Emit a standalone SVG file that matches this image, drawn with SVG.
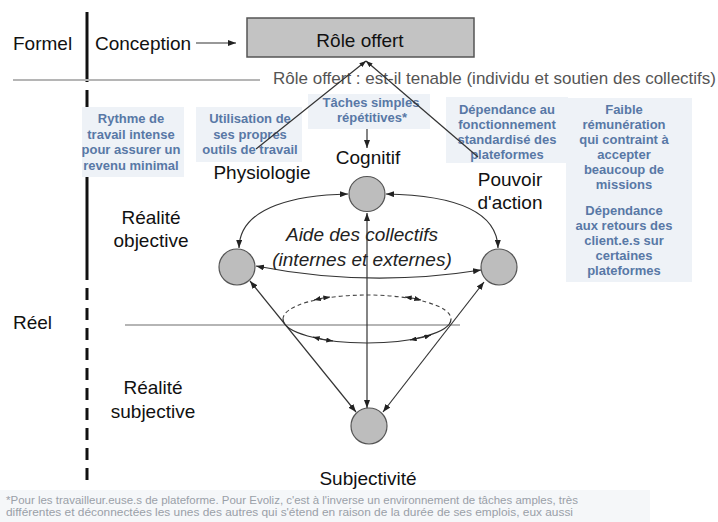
<svg xmlns="http://www.w3.org/2000/svg" width="718" height="522" viewBox="0 0 718 522">
<defs>
<style>
.lbl{font-family:"Liberation Sans",Arial,sans-serif;font-size:19px;fill:#111}
.sub{font-family:"Liberation Sans",Arial,sans-serif;font-size:17px;fill:#555}
.box{fill:#eef2f7}
.bt{font-family:"Liberation Sans",Arial,sans-serif;font-size:13px;font-weight:bold;fill:#5878a6;text-anchor:middle}
.it{font-family:"Liberation Sans",Arial,sans-serif;font-size:19px;font-style:italic;fill:#222;text-anchor:middle}
.node{fill:#bdbdbd;stroke:#555;stroke-width:1.2}
.c{fill:none;stroke:#333;stroke-width:1.2}
.dash{fill:none;stroke:#444;stroke-width:1.1;stroke-dasharray:4,3}
.fn{font-family:"Liberation Sans",Arial,sans-serif;font-size:10px;fill:#9aa0a8}
</style>
<marker id="ah" viewBox="0 0 8 6" refX="8" refY="3" markerWidth="8" markerHeight="6" markerUnits="userSpaceOnUse" orient="auto-start-reverse">
<path d="M0,0 L8,3 L0,6 z" fill="#222"/>
</marker>
<marker id="as" viewBox="0 0 8 6" refX="8" refY="3" markerWidth="7" markerHeight="5" markerUnits="userSpaceOnUse" orient="auto-start-reverse">
<path d="M0,0 L8,3 L0,6 z" fill="#222"/>
</marker>
</defs>
<rect width="718" height="522" fill="#fff"/>

<g id="axes">
<line x1="87" y1="12" x2="87" y2="82" stroke="#111" stroke-width="3"/>
<line x1="87" y1="90" x2="87" y2="280" stroke="#111" stroke-width="3"/>
<line x1="87" y1="288" x2="87" y2="482" stroke="#111" stroke-width="3" stroke-dasharray="12,8"/>
<line x1="13" y1="80" x2="260" y2="80" stroke="#b5b5b5" stroke-width="2"/>
<line x1="125" y1="325" x2="460" y2="325" stroke="#b5b5b5" stroke-width="2"/>
</g>

<g id="side-labels">
<text class="lbl" x="13" y="50">Formel</text>
<text class="lbl" x="13" y="329">Réel</text>
<text class="lbl" x="151" y="224" text-anchor="middle">Réalité</text>
<text class="lbl" x="151" y="247" text-anchor="middle">objective</text>
<text class="lbl" x="153" y="394" text-anchor="middle">Réalité</text>
<text class="lbl" x="153" y="418" text-anchor="middle">subjective</text>
</g>

<g id="node-conception">
<text class="lbl" x="95" y="50">Conception</text>
</g>

<g id="node-role-offert">
<rect x="247" y="18" width="227" height="39" fill="#c3c3c3" stroke="#555" stroke-width="1.5"/>
<text class="lbl" x="360" y="47" text-anchor="middle">Rôle offert</text>
</g>

<g id="node-tenable">
<text class="sub" x="273" y="84" textLength="443" lengthAdjust="spacingAndGlyphs">Rôle offert : est-il tenable (individu et soutien des collectifs)</text>
</g>

<g id="box-rythme">
<rect class="box" x="82" y="107" width="102" height="70"/>
<text class="bt" x="131" y="123">Rythme de</text>
<text class="bt" x="131" y="138.5">travail intense</text>
<text class="bt" x="131" y="154">pour assurer un</text>
<text class="bt" x="131" y="169.5">revenu minimal</text>
</g>

<g id="box-outils">
<rect class="box" x="196" y="107" width="106" height="55"/>
<text class="bt" x="250" y="123">Utilisation de</text>
<text class="bt" x="250" y="138.5">ses propres</text>
<text class="bt" x="250" y="154">outils de travail</text>
</g>

<g id="box-taches">
<rect class="box" x="308" y="94" width="122" height="35"/>
<text class="bt" x="371" y="107">Tâches simples</text>
<text class="bt" x="372" y="122">répétitives*</text>
</g>

<g id="box-dependance">
<rect class="box" x="446" y="97" width="122" height="66"/>
<text class="bt" x="507" y="114">Dépendance au</text>
<text class="bt" x="507" y="129">fonctionnement</text>
<text class="bt" x="507" y="144">standardisé des</text>
<text class="bt" x="507" y="159">plateformes</text>
</g>

<g id="box-remuneration">
<rect class="box" x="566" y="98" width="126" height="184"/>
<text class="bt" x="624" y="114">Faible</text>
<text class="bt" x="624" y="129">rémunération</text>
<text class="bt" x="624" y="144">qui contraint à</text>
<text class="bt" x="624" y="159">accepter</text>
<text class="bt" x="624" y="174">beaucoup de</text>
<text class="bt" x="624" y="189">missions</text>
<text class="bt" x="624" y="215">Dépendance</text>
<text class="bt" x="624" y="230">aux retours des</text>
<text class="bt" x="624" y="245">client.e.s sur</text>
<text class="bt" x="624" y="260">certaines</text>
<text class="bt" x="624" y="275">plateformes</text>
</g>

<g id="node-cognitif">
<ellipse class="node" cx="367" cy="194" rx="18" ry="17.5"/>
<text class="lbl" x="368" y="164" text-anchor="middle">Cognitif</text>
</g>

<g id="node-physiologie">
<ellipse class="node" cx="237" cy="267" rx="18" ry="18"/>
<text class="lbl" x="262" y="179" text-anchor="middle">Physiologie</text>
</g>

<g id="node-pouvoir">
<ellipse class="node" cx="499" cy="267" rx="18" ry="18"/>
<text class="lbl" x="510" y="186" text-anchor="middle">Pouvoir</text>
<text class="lbl" x="510" y="209" text-anchor="middle">d'action</text>
</g>

<g id="node-subjectivite">
<ellipse class="node" cx="369" cy="426" rx="18" ry="18"/>
<text class="lbl" x="368" y="485" text-anchor="middle">Subjectivité</text>
</g>

<g id="node-aide">
<text class="it" x="362" y="241">Aide des collectifs</text>
<text class="it" x="362" y="266">(internes et externes)</text>
</g>

<g id="connectors">
<path class="c" d="M196,43 L236,43" marker-end="url(#ah)"/>
<path class="c" d="M256,149 L366,61" marker-end="url(#as)"/>
<path class="c" d="M478,157 L366,61" marker-end="url(#as)"/>
<path class="c" d="M367,129 L367,148" marker-end="url(#ah)"/>
<path class="c" d="M239,248 C240,205 300,195 348,194" marker-start="url(#ah)" marker-end="url(#ah)"/>
<path class="c" d="M386,194 C440,195 497,205 498,248" marker-start="url(#ah)" marker-end="url(#ah)"/>
<path class="c" d="M256,266 Q368,288 481,270" marker-start="url(#ah)" marker-end="url(#ah)"/>
<path class="c" d="M367,408 L367,213" marker-start="url(#ah)" marker-end="url(#ah)"/>
<path class="c" d="M250,281 L356,412" marker-start="url(#ah)" marker-end="url(#ah)"/>
<path class="c" d="M484,282 L383,412" marker-start="url(#ah)" marker-end="url(#ah)"/>
<path class="dash" d="M283,319 A84,24 0 0 1 451,319"/>
<path class="c" d="M283,319 A84,24 0 0 0 451,319"/>
<path class="c" d="M314,300 A84,24 0 0 1 330,297" marker-start="url(#as)" marker-end="url(#as)"/>
<path class="c" d="M405,297 A84,24 0 0 1 421,300" marker-start="url(#as)" marker-end="url(#as)"/>
<path class="c" d="M313,337 A84,24 0 0 0 333,341" marker-start="url(#as)" marker-end="url(#as)"/>
<path class="c" d="M410,340 A84,24 0 0 0 431,335" marker-start="url(#as)" marker-end="url(#as)"/>
</g>

<g id="footnote">
<rect x="0" y="490" width="650" height="32" fill="#f5f7f9"/>
<text class="fn" x="6" y="504" textLength="572" lengthAdjust="spacingAndGlyphs">*Pour les travailleur.euse.s de plateforme. Pour Evoliz, c'est à l'inverse un environnement de tâches amples, très</text>
<text class="fn" x="6" y="516" textLength="567" lengthAdjust="spacingAndGlyphs">différentes et déconnectées les unes des autres qui s'étend en raison de la durée de ses emplois, eux aussi</text>
</g>
</svg>
